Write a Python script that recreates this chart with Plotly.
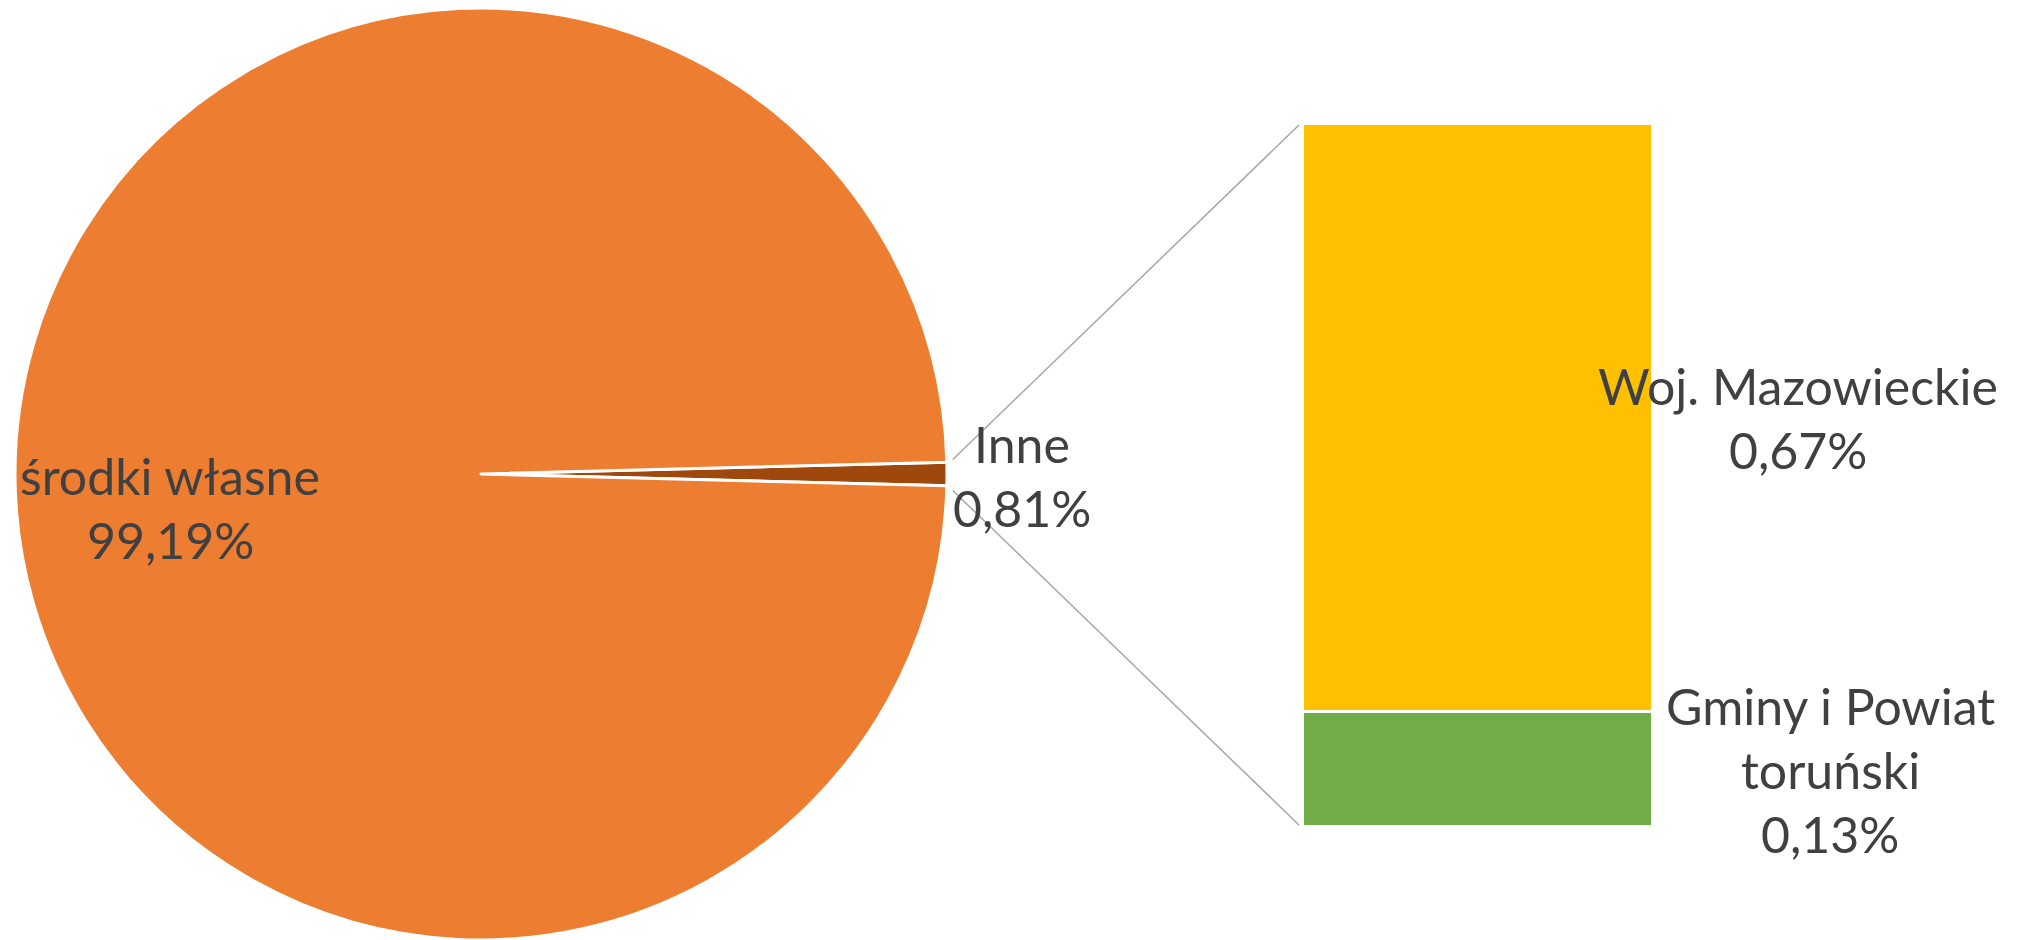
import math
import plotly.graph_objects as go

# ---- data ----
pie_labels = ["Inne", "środki własne"]
pie_values = [0.81, 99.19]
pie_colors = ["#9E480E", "#ED7D31"]

bar_labels = ["Gminy i Powiat<br>toruński", "Woj. Mazowieckie"]
bar_values = [0.13, 0.67]
bar_colors = ["#70AD47", "#FFC000"]

W, H = 2026, 940
TXT = "#404040"
FONT = "Lato"
FS = 50
LINE = 64


def pct(v):
    return f"{v:.2f}".replace(".", ",") + "%"


def px(x):
    return x / W


def py(y):
    return 1 - y / H


fig = go.Figure()

# pie geometry (pixels)
cx, cy, r = 481, 474, 466
inne_half = 360 * pie_values[0] / sum(pie_values) / 2

fig.add_trace(go.Pie(
    labels=pie_labels, values=pie_values, sort=False, direction="clockwise",
    rotation=90 - inne_half,
    marker=dict(colors=pie_colors, line=dict(color="white", width=3)),
    textinfo="none", hoverinfo="label+percent", showlegend=False,
    domain=dict(x=[px(cx - r - 3), px(cx + r + 3)], y=[0, py(cy - r)]),
))

# bar of pie
bx0, bx1, by0, by1 = 1302, 1652, 123, 826
for lab, v, c in zip(bar_labels, bar_values, bar_colors):
    fig.add_trace(go.Bar(
        x=[0], y=[v], width=[1], marker=dict(color=c, line=dict(color="white", width=3)),
        name=lab.replace("<br>", " "), showlegend=False, hoverinfo="name+y",
    ))

fig.update_layout(
    barmode="stack",
    width=W, height=H, margin=dict(l=0, r=0, t=0, b=0),
    paper_bgcolor="white", plot_bgcolor="white",
    xaxis=dict(domain=[px(bx0), px(bx1)], range=[-0.5, 0.5], visible=False, fixedrange=True),
    yaxis=dict(domain=[py(by1), py(by0)], range=[0, sum(bar_values)], visible=False, fixedrange=True),
    font=dict(family=FONT, color=TXT, size=FS),
)

# connector lines
a = math.radians(inne_half) + math.radians(0.3)
rr = r + 6
sx = cx + rr * math.cos(a)
shapes = [
    dict(type="line", xref="paper", yref="paper",
         x0=px(sx), y0=py(cy - rr * math.sin(a)), x1=px(bx0 - 3), y1=py(by0 + 2),
         line=dict(color="#A6A6A6", width=1.5)),
    dict(type="line", xref="paper", yref="paper",
         x0=px(sx), y0=py(cy + rr * math.sin(a) + 2), x1=px(bx0 - 3), y1=py(by1 - 1),
         line=dict(color="#A6A6A6", width=1.5)),
]
fig.update_layout(shapes=shapes)

# labels: (lines, x centre, y of first line centre) in pixels
ann = [
    (pie_labels[1].split("<br>") + [pct(pie_values[1])], 170, 476),
    (pie_labels[0].split("<br>") + [pct(pie_values[0])], 1022, 444),
    (bar_labels[1].split("<br>") + [pct(bar_values[1])], 1798, 386),
    (bar_labels[0].split("<br>") + [pct(bar_values[0])], 1830, 706),
]
for lines, x, y in ann:
    for i, t in enumerate(lines):
        fig.add_annotation(text=t, x=px(x), y=py(y + i * LINE), xref="paper", yref="paper",
                           xanchor="center", yanchor="middle", align="center",
                           showarrow=False, font=dict(family=FONT, size=FS, color=TXT))

fig.write_html("out.html", config={"displayModeBar": False},
               post_script="document.body.style.margin='0';document.body.style.overflow='hidden';")
